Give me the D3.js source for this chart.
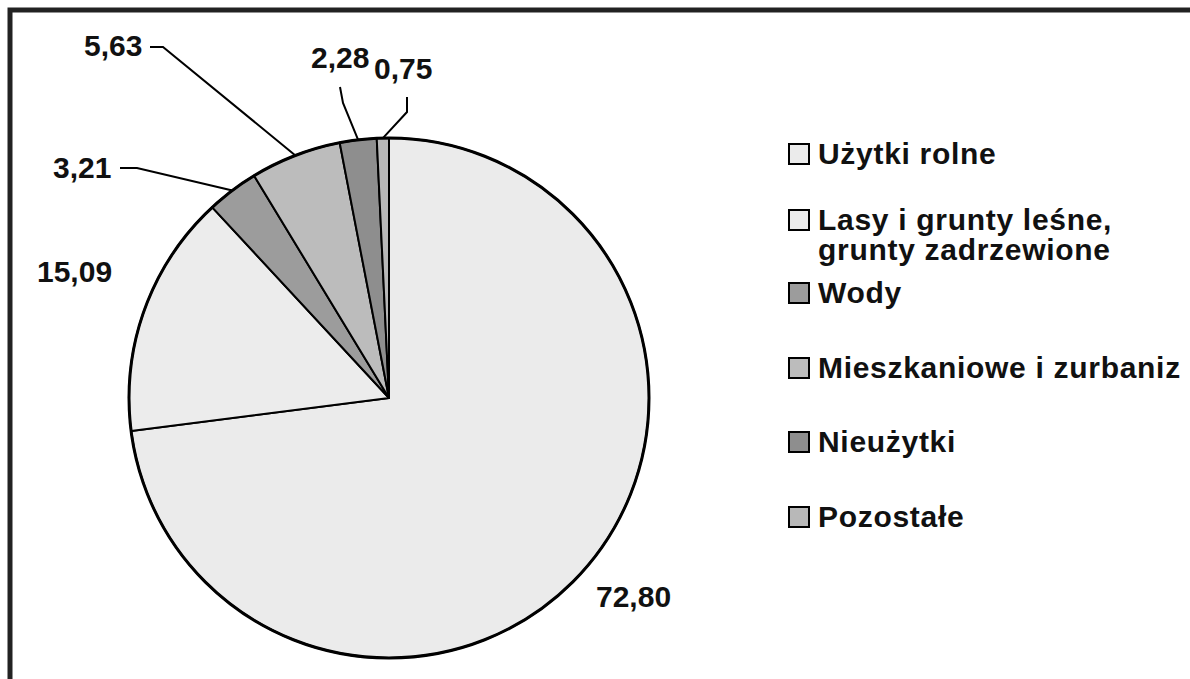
<!DOCTYPE html>
<html>
<head>
<meta charset="utf-8">
<script src="https://cdn.jsdelivr.net/npm/d3@7"></script>
<style>
  body { margin: 0; background: #fff; }
  svg { display: block; font-family: "Liberation Sans", Arial, sans-serif; font-weight: bold; }
</style>
</head>
<body>
<div id="viz"></div>
<script>
// data
var categories = ["Użytki rolne", "Lasy i grunty leśne, grunty zadrzewione", "Wody",
                  "Mieszkaniowe i zurbaniz", "Nieużytki", "Pozostałe"];
var values = [72.80, 15.09, 3.21, 5.63, 2.28, 0.75];
var valueLabels = ["72,80", "15,09", "3,21", "5,63", "2,28", "0,75"];
var legendLines = [["Użytki rolne"], ["Lasy i grunty leśne,", "grunty zadrzewione"], ["Wody"],
                   ["Mieszkaniowe i zurbaniz"], ["Nieużytki"], ["Pozostałe"]];
var fills = ["#ebebeb", "#ececec", "#9c9c9c", "#bcbcbc", "#8e8e8e", "#b8b8b8"];

// label placement (text anchor point + leader elbow), layout only
var labelLayout = [
  {x: 596, y: 607, leader: null},
  {x: 37,  y: 282, leader: null},
  {x: 53,  y: 178, leader: [[120, 168], [137, 168]]},
  {x: 84,  y: 56,  leader: [[150, 47], [163, 47]]},
  {x: 311, y: 68,  leader: [[340, 87], [343, 103]]},
  {x: 374, y: 79,  leader: [[407, 97], [407, 112]]}
];
var legendBaselines = [164, 230, 303, 378, 452, 527];

var W = 1190, H = 679;
var cx = 389, cy = 398, r = 260;

var svg = d3.select("#viz")
  .append("svg")
    .attr("width", W)
    .attr("height", H);

// outer frame (only left and top edges are inside the picture)
svg.append("rect")
  .attr("x", 10).attr("y", 10)
  .attr("width", W + 20).attr("height", H + 20)
  .attr("fill", "#fff")
  .attr("stroke", "#222")
  .attr("stroke-width", 5);

var pie = d3.pie().sort(null).value(function(d) { return d; });
var arcs = pie(values);

var arc = d3.arc().innerRadius(0).outerRadius(r);
var edge = d3.arc().innerRadius(r).outerRadius(r);

var g = svg.append("g")
  .attr("transform", `translate(${cx},${cy})`);

g.selectAll("path.slice")
  .data(arcs)
  .enter().append("path")
    .attr("class", "slice")
    .attr("d", arc)
    .attr("fill", function(d, i) { return fills[i]; })
    .attr("stroke", "#000")
    .attr("stroke-width", 2)
    .attr("stroke-linejoin", "round");

// pie outline a bit heavier
g.append("circle")
  .attr("r", r)
  .attr("fill", "none")
  .attr("stroke", "#000")
  .attr("stroke-width", 3);

// leader lines
arcs.forEach(function(d, i) {
  var L = labelLayout[i];
  if (!L.leader) return;
  var p = edge.centroid(d);
  var pts = L.leader.concat([[p[0] + cx, p[1] + cy]]);
  svg.append("path")
    .attr("d", d3.line()(pts))
    .attr("fill", "none")
    .attr("stroke", "#000")
    .attr("stroke-width", 2);
});

// value labels
svg.selectAll("text.val")
  .data(valueLabels)
  .enter().append("text")
    .attr("class", "val")
    .attr("x", function(d, i) { return labelLayout[i].x; })
    .attr("y", function(d, i) { return labelLayout[i].y; })
    .attr("font-size", 30)
    .attr("fill", "#111")
    .text(function(d) { return d; });

// legend
var legend = svg.append("g");
categories.forEach(function(c, i) {
  var by = legendBaselines[i];
  legend.append("rect")
    .attr("x", 789).attr("y", by - 20)
    .attr("width", 20).attr("height", 20)
    .attr("fill", fills[i])
    .attr("stroke", "#000")
    .attr("stroke-width", 2);
  var t = legend.append("text")
    .attr("x", 818).attr("y", by)
    .attr("font-size", 30)
    .attr("letter-spacing", 0.7)
    .attr("fill", "#111");
  legendLines[i].forEach(function(line, j) {
    t.append("tspan")
      .attr("x", 818)
      .attr("y", by + j * 30)
      .text(line);
  });
});
</script>
</body>
</html>
